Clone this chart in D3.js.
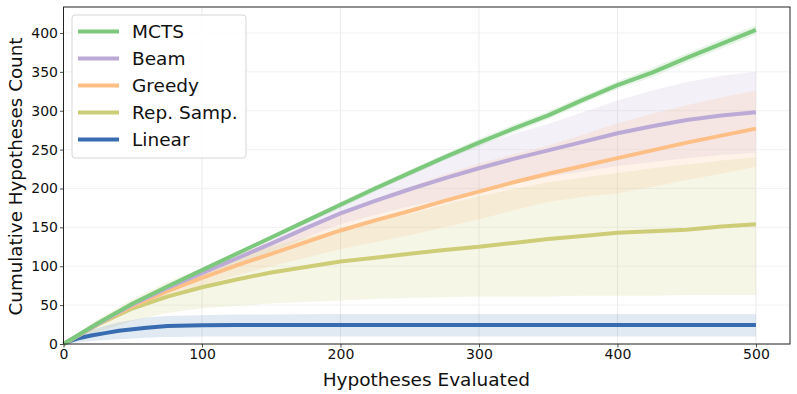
<!DOCTYPE html>
<html>
<head>
<meta charset="utf-8">
<script src="https://cdn.jsdelivr.net/npm/d3@7"></script>
<style>
  body { margin: 0; background: #fff; }
  text { font-family: "DejaVu Sans", sans-serif; }
</style>
</head>
<body>
<div id="chart"></div>
<script>
// x positions shared by the tree-search style methods
const xs = [0, 25, 50, 75, 100, 125, 150, 175, 200, 225, 250, 275, 300, 325, 350, 375, 400, 425, 450, 475, 500];

const mctsMean = [0, 27, 52, 74, 95, 116, 137, 158, 179, 200, 220, 240, 259, 277, 294, 314, 333, 349, 368, 386, 404];
const mctsLo = [0, 26, 50, 72, 92, 113, 134, 155, 175, 196, 216, 236, 254, 272, 289, 309, 328, 343, 362, 380, 398];
const mctsHi = [0, 28, 54, 76, 98, 119, 140, 161, 183, 204, 224, 244, 264, 282, 299, 319, 338, 355, 374, 392, 410];

const beamMean = [0, 26, 51, 72, 91, 110, 129, 149, 168, 184, 199, 213, 226, 238, 249, 260, 271, 280, 288, 294, 298];
const beamLo = [0, 25, 48, 68, 85, 102, 119, 137, 154, 166, 177, 186, 196, 206, 215, 222, 229, 234, 239, 243, 246];
const beamHi = [0, 27, 54, 76, 97, 118, 139, 161, 182, 202, 221, 240, 256, 270, 283, 298, 313, 326, 337, 345, 350];

const greedyMean = [0, 26, 49, 68, 85, 101, 116, 131, 146, 159, 171, 184, 196, 208, 219, 229, 239, 249, 259, 268, 277];
const greedyLo = [0, 24, 45, 61, 75, 88, 100, 111, 122, 131, 140, 150, 160, 172, 183, 189, 194, 202, 211, 219, 228];
const greedyHi = [0, 28, 53, 75, 95, 114, 132, 151, 170, 187, 202, 218, 232, 244, 255, 269, 284, 296, 307, 317, 326];

const repMean = [0, 25, 46, 61, 73, 83, 92, 99, 106, 111, 116, 121, 125, 130, 135, 139, 143, 145, 147, 151, 154];
const repLo = [0, 15, 30, 40, 46, 49, 52, 54, 56, 58, 59, 60, 61, 61, 61, 62, 62, 62, 63, 63, 63];
const repHi = [0, 32, 58, 80, 97, 112, 125, 137, 148, 158, 167, 179, 190, 199, 208, 214, 220, 226, 231, 236, 240];

// linear saturates early, so it gets its own x positions
const linX = [0, 5, 10, 20, 30, 40, 50, 60, 75, 100, 125, 150, 200, 300, 400, 500];
const linMean = [0, 4, 7, 11, 14, 17, 19, 21, 23, 24, 24.5, 24.5, 24.5, 24.5, 24.5, 24.5];
const linLo = [0, 1, 2, 4, 5, 6, 7, 8, 9, 9.5, 9.5, 9.5, 9.5, 9.5, 9.5, 9.5];
const linHi = [0, 6, 11, 18, 23, 28, 31, 34, 36, 37, 38, 38, 38.5, 38.5, 38.5, 38.5];

const names = ["MCTS", "Beam", "Greedy", "Rep. Samp.", "Linear"];
const colors = ["#7cc87c", "#bcaad6", "#fdbf85", "#cdcd78", "#386cb0"];
const xTicks = [0, 100, 200, 300, 400, 500];
const yTicks = [0, 50, 100, 150, 200, 250, 300, 350, 400];

const series = [
  { x: xs, mean: mctsMean, lo: mctsLo, hi: mctsHi },
  { x: xs, mean: beamMean, lo: beamLo, hi: beamHi },
  { x: xs, mean: greedyMean, lo: greedyLo, hi: greedyHi },
  { x: xs, mean: repMean, lo: repLo, hi: repHi },
  { x: linX, mean: linMean, lo: linLo, hi: linHi },
];

const W = 797, H = 394;
const margin = { top: 7, right: 7, bottom: 50, left: 63.5 };
const width = W - margin.left - margin.right,
  height = H - margin.top - margin.bottom;

const x = d3.scaleLinear().domain([0, 524.6]).range([0, width]);
const y = d3.scaleLinear().domain([0, 433.4]).range([height, 0]);

const svg = d3.select("#chart").append("svg")
  .attr("width", W).attr("height", H);
const g = svg.append("g")
  .attr("transform", "translate(" + margin.left + "," + margin.top + ")");

// grid
g.append("g").selectAll("line").data(xTicks).enter().append("line")
  .attr("x1", (d) => x(d)).attr("x2", (d) => x(d))
  .attr("y1", 0).attr("y2", height)
  .attr("stroke", "#e6e6e6").attr("stroke-width", 0.8);
g.append("g").selectAll("line").data(yTicks).enter().append("line")
  .attr("x1", 0).attr("x2", width)
  .attr("y1", (d) => y(d)).attr("y2", (d) => y(d))
  .attr("stroke", "#efefef").attr("stroke-width", 0.8);

// bands
const area = d3.area()
  .x((d) => x(d[0])).y0((d) => y(d[1])).y1((d) => y(d[2]));
series.forEach(function (s, i) {
  const pts = s.x.map((v, j) => [v, s.lo[j], s.hi[j]]);
  g.append("path")
    .attr("d", area(pts))
    .attr("fill", colors[i])
    .attr("fill-opacity", i === 4 ? 0.15 : 0.18);
});

// lines, drawn bottom series first so MCTS stays on top
const line = d3.line().x((d) => x(d[0])).y((d) => y(d[1]));
for (let i = series.length - 1; i >= 0; i--) {
  const s = series[i];
  g.append("path")
    .attr("d", line(s.x.map((v, j) => [v, s.mean[j]])))
    .attr("fill", "none")
    .attr("stroke", colors[i])
    .attr("stroke-width", 4)
    .attr("stroke-linejoin", "round");
}

// axes
const xAxis = g.append("g")
  .attr("transform", "translate(0," + height + ")")
  .call(d3.axisBottom(x).tickValues(xTicks).tickSize(3.5).tickPadding(2));
const yAxis = g.append("g")
  .call(d3.axisLeft(y).tickValues(yTicks).tickSize(3.5).tickPadding(2));
[xAxis, yAxis].forEach(function (a) {
  a.select(".domain").remove();
  a.selectAll("line").attr("stroke", "#222").attr("stroke-width", 0.8);
  a.selectAll("text").attr("font-size", 14).attr("fill", "#111")
    .attr("font-family", "DejaVu Sans");
});

// frame
g.append("rect")
  .attr("width", width).attr("height", height)
  .attr("fill", "none").attr("stroke", "#222").attr("stroke-width", 1);

// axis labels
svg.append("text")
  .attr("x", margin.left + x(262)).attr("y", 386)
  .attr("text-anchor", "middle").attr("font-size", 18.5)
  .attr("fill", "#111")
  .text("Hypotheses Evaluated");
svg.append("text")
  .attr("transform", "translate(22," + (margin.top + height / 2 + 1) + ") rotate(-90)")
  .attr("text-anchor", "middle").attr("font-size", 18.3)
  .attr("fill", "#111")
  .text("Cumulative Hypotheses Count");

// legend
const lg = svg.append("g").attr("transform", "translate(72,15)");
lg.append("rect")
  .attr("width", 174).attr("height", 143).attr("rx", 3)
  .attr("fill", "#fff").attr("fill-opacity", 0.85)
  .attr("stroke", "#d6d6d6").attr("stroke-width", 1);
names.forEach(function (n, i) {
  const yy = 16.5 + i * 27;
  lg.append("line")
    .attr("x1", 6).attr("x2", 47).attr("y1", yy).attr("y2", yy)
    .attr("stroke", colors[i]).attr("stroke-width", 4);
  lg.append("text")
    .attr("x", 60).attr("y", yy + 6.5)
    .attr("font-size", 18.5).attr("fill", "#111")
    .text(n);
});
</script>
</body>
</html>
